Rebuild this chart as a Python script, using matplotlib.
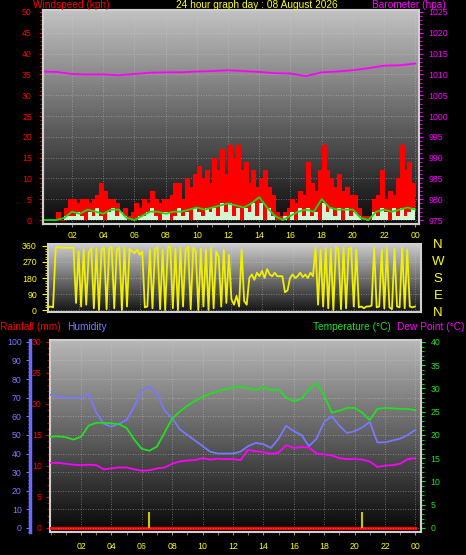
import numpy as np
import matplotlib
matplotlib.use("Agg")
import matplotlib.pyplot as plt
from matplotlib.ticker import MultipleLocator

plt.rcParams['font.family'] = ['Liberation Sans', 'DejaVu Sans']

# x axis labels (hours)
hour_ticks = [2, 4, 6, 8, 10, 12, 14, 16, 18, 20, 22, 24]
hour_labels = ["02", "04", "06", "08", "10", "12", "14", "16", "18", "20", "22", "00"]

# wind gust (kph), every 15 min
wind_gust = [0, 0, 0, 0,   2, 0, 3, 5,   5, 4, 5, 5,   4, 5, 6, 9,
             7, 5, 5, 4,   2, 3, 1, 2,   4, 3, 5, 4,   7, 5, 4, 5,
             5, 6, 9, 9,   5, 10, 8, 11, 13, 10, 12, 9, 15, 12, 17, 11,
             18, 15, 18, 12, 14, 9, 12, 8, 10, 12, 8, 6,  2, 1, 2, 3,
             5, 4, 7, 6,   14, 9, 7, 12, 18, 12, 10, 8, 11, 7, 8, 6,
             6, 3, 1, 1,   1, 5, 6, 12,  5, 7, 6, 10,  18, 12, 14, 9,
             6]
# wind speed (kph), every 15 min
wind_speed = [0, 0, 0, 0,  0, 0, 1, 1,  1, 2, 1, 0,  2, 1, 3, 1,
              0, 2, 3, 1,  2, 1, 0, 0,  0, 1, 1, 2,  3, 1, 0, 2,
              2, 0, 1, 3,  1, 2, 0, 3,  2, 1, 3, 2,  3, 1, 4, 2,
              4, 1, 3, 0,  3, 2, 4, 1,  4, 0, 3, 1,  0, 0, 1, 0,
              2, 0, 3, 1,  3, 1, 2, 0,  4, 2, 3, 1,  3, 0, 3, 1,
              2, 1, 0, 0,  0, 2, 1, 3,  2, 0, 3, 1,  3, 1, 2, 3,
              1]
# average wind (kph), every 30 min
wind_avg = [0, 0, 0, 0.5, 2, 1.5, 2.5, 2, 1.5, 2.5, 2.5, 0.5, 0, 1, 2, 2,
            1.5, 2, 2, 2.5, 3, 2.5, 3, 3.5, 4, 3.5, 3, 4, 5.5, 3, 1, 0,
            1, 2, 2.5, 2, 5, 3, 2.5, 2.5, 2.5, 0.5, 0, 2, 2.5, 2, 2.5, 3, 2.5]
# barometer (hpa), hourly
baro = [1010.7, 1010.6, 1010.1, 1010.0, 1010.0, 1009.8, 1010.1, 1010.4, 1010.5,
        1010.5, 1010.7, 1010.8, 1011.0, 1010.8, 1010.6, 1010.3, 1010.2, 1009.6,
        1010.5, 1010.7, 1011.0, 1011.5, 1012.1, 1012.2, 1012.6]
# wind direction (deg), every 10 min
wind_dir = [15, 20, 15, 350, 355, 350,   350, 350, 350, 350, 350, 40,
            330, 20, 340, 30, 320, 350,   10, 345, 0, 340, 350, 5,
            345, 355, 10, 340, 350, 0,    350, 20, 345, 330, 320, 340,
            310, 330, 15, 20, 340, 10,    345, 350, 5, 340, 0, 350,
            355, 10, 345, 0, 350, 20,     340, 355, 5, 350, 330, 0,
            345, 20, 340, 0, 350, 10,     330, 300, 20, 340, 40, 310,
            60, 30, 80, 20, 340, 50,      30, 180, 200, 170, 210, 190,
            220, 180, 230, 200, 190, 210, 190, 190, 190, 100, 110, 180,
            200, 180, 190, 210, 185, 200, 180, 210, 190, 350, 30, 340,
            20, 350, 10, 345, 0, 355,     340, 5, 350, 10, 345, 350,
            20, 340, 15, 20, 10, 20,      20, 25, 350, 15, 20, 340,
            10, 350, 15, 5, 345, 20,      15, 350, 10, 340, 20, 15,
            20]
# temperature / dew point (C), humidity (%), rain (mm), every 30 min
temp = [19.6, 19.7, 19.5, 19.0, 19.6, 22.0, 22.6, 22.6, 22.5, 22.3, 21.5, 19.0,
        17.0, 16.6, 17.5, 20.5, 23.5, 25.0, 26.3, 27.3, 28.2, 28.8, 29.4, 29.8,
        30.2, 30.4, 30.0, 29.7, 30.3, 29.6, 29.8, 28.0, 27.2, 27.8, 29.8, 31.2,
        28.5, 24.8, 25.2, 25.8, 25.8, 24.8, 23.2, 25.6, 25.8, 25.7, 25.6, 25.6, 25.3]
dew = [14.0, 14.0, 13.8, 13.6, 13.5, 13.6, 13.5, 12.6, 12.8, 13.0, 13.0, 12.6,
       12.3, 12.4, 12.8, 13.0, 13.8, 14.3, 14.5, 14.6, 15.0, 14.7, 14.9, 14.8,
       14.8, 14.6, 16.8, 16.5, 16.3, 15.9, 16.2, 17.8, 17.2, 17.4, 17.3, 16.0,
       15.8, 15.6, 15.0, 14.8, 14.8, 14.7, 14.3, 13.1, 13.4, 13.5, 13.8, 14.8, 15.0]
humidity = [71.5, 70.5, 70, 70, 70, 72, 62, 56, 54.5, 56, 58, 65,
            74, 76, 72, 63, 59, 53, 50, 47, 44, 41, 40, 40,
            40, 41, 44, 45.7, 45, 43, 48, 55, 52, 50, 44, 48,
            57, 60, 55, 51, 52, 54, 57, 46, 46, 47, 48, 50, 52.7]
rain = [0.0] * 49
rain_rate_hours = [6.45, 20.5]
rain_rate = [2.6, 2.6]

t15 = np.arange(len(wind_gust)) * 0.25
t30 = np.arange(len(wind_avg)) * 0.5
t60 = np.arange(len(baro)) * 1.0
t10 = np.arange(len(wind_dir)) / 6.0

W, H = 466, 555
fig = plt.figure(figsize=(W / 100, H / 100), dpi=100)
fig.patch.set_facecolor('black')


def px_box(l, t, r, b):
    return [l / W, 1 - b / H, (r - l) / W, (b - t) / H]


def shade(ax, top, bottom):
    g = np.linspace(top, bottom, 200).reshape(-1, 1)
    ax.imshow(g, cmap='gray', vmin=0, vmax=1, aspect='auto', extent=[0, 1, 0, 1],
              transform=ax.transAxes, zorder=0, interpolation='bilinear')


def frame(ax):
    for s in ax.spines.values():
        s.set_color('#d0d0d0')
        s.set_linewidth(1.5)


def ftext(x, y, s, color, size=7.3, ha='left'):
    fig.text(x / W, 1 - y / H, s, color=color, fontsize=size, ha=ha, va='center')


grid_kw = dict(color='#d0d0d0', ls=(0, (1, 2)), lw=0.6, alpha=0.55)

# ---- panel 1: wind speed and barometer ----
ax1 = fig.add_axes(px_box(43, 10, 419, 224))
shade(ax1, 0.76, 0.04)
ax1.fill_between(t15, wind_gust, step='post', color='red', lw=0, zorder=2)
ax1.step(t15, wind_gust, where='post', color='red', lw=0.8, zorder=2)
ax1.fill_between(t15, wind_speed, step='post', color='#d4f5d4', lw=0, zorder=3)
ax1.plot(t30, wind_avg, color='#10e010', lw=1.3, zorder=4)
ax1.set_xlim(0.14, 24.24)
ax1.set_ylim(-0.96, 50.48)
ax1.yaxis.set_major_locator(MultipleLocator(5))
ax1.yaxis.set_minor_locator(MultipleLocator(1))
ax1.tick_params(axis='y', which='both', colors='red', labelsize=6.3, length=3, pad=5)
ax1.tick_params(axis='y', which='minor', length=2)
ax1.set_xticks(hour_ticks)
ax1.set_xticklabels(hour_labels)
ax1.xaxis.set_minor_locator(MultipleLocator(1))
ax1.tick_params(axis='x', which='both', colors='#909090', labelcolor='yellow',
                labelsize=6.3, length=2, pad=3)
ax1.grid(True, which='major', **grid_kw)
frame(ax1)

ax1b = ax1.twinx()
ax1b.plot(t60, baro, color='#ff00ff', lw=1.3)
ax1b.set_ylim(974.04, 1025.48)
ax1b.yaxis.set_major_locator(MultipleLocator(5))
ax1b.yaxis.set_minor_locator(MultipleLocator(1))
ax1b.tick_params(axis='y', which='both', colors='#ff00ff', labelsize=6.3, length=3, pad=4)
ax1b.tick_params(axis='y', which='minor', length=2)
frame(ax1b)

# ---- panel 2: wind direction ----
ax2 = fig.add_axes(px_box(48, 244, 421, 312))
shade(ax2, 0.8, 0.08)
ax2.plot(t10, wind_dir, color='#f0f000', lw=1.3, zorder=3)
ax2.set_xlim(0, 24.4)
ax2.set_ylim(-11, 371)
ax2.set_yticks([0, 90, 180, 270, 360])
ax2.yaxis.set_minor_locator(MultipleLocator(15))
ax2.tick_params(axis='y', which='both', colors='yellow', labelsize=6.3, length=4, pad=4)
ax2.tick_params(axis='y', which='minor', length=2)
ax2.set_xticks(hour_ticks)
ax2.tick_params(axis='x', length=0, labelbottom=False)
ax2.grid(True, which='major', **grid_kw)
frame(ax2)
for y, s in zip([245, 262, 279, 296, 313], ["N", "W", "S", "E", "N"]):
    ftext(438, y, s, 'yellow', size=9.5, ha='center')

# ---- panel 3: rain, humidity, temperature ----
ax3 = fig.add_axes(px_box(50, 340, 421, 532))
shade(ax3, 0.72, 0.03)
ax3.plot(t30, rain, color='red', lw=2.2, zorder=3)
ax3.vlines(rain_rate_hours, 0, rain_rate, color='#c8c800', lw=1.5, zorder=3)
ax3.set_xlim(-0.04, 24.37)
ax3.set_ylim(-0.65, 30.3)
ax3.yaxis.set_major_locator(MultipleLocator(5))
ax3.yaxis.set_minor_locator(MultipleLocator(1))
ax3.tick_params(axis='y', which='both', colors='red', labelsize=6.3, length=3, pad=3)
ax3.tick_params(axis='y', which='minor', length=2)
ax3.set_xticks(hour_ticks)
ax3.set_xticklabels(hour_labels)
ax3.xaxis.set_minor_locator(MultipleLocator(1))
ax3.tick_params(axis='x', which='both', colors='#909090', labelcolor='yellow',
                labelsize=6.3, length=2, pad=5)
ax3.grid(True, axis='x', which='major', **grid_kw)
frame(ax3)

axh = ax3.twinx()
axh.spines['left'].set_position(('outward', 14.4))
axh.yaxis.set_ticks_position('left')
axh.yaxis.set_label_position('left')
for k in ['right', 'top', 'bottom']:
    axh.spines[k].set_visible(False)
axh.spines['left'].set_visible(True)
axh.spines['left'].set_color('#6a6aff')
axh.spines['left'].set_linewidth(2.5)
axh.plot(t30, humidity, color='#7878ff', lw=1.3, zorder=3)
axh.set_ylim(-0.65 / 30 * 100, 30.3 / 30 * 100)
axh.yaxis.set_major_locator(MultipleLocator(10))
axh.yaxis.set_minor_locator(MultipleLocator(2))
axh.tick_params(axis='y', which='both', colors='#7878ff', labelsize=6.3, length=3, pad=3)
axh.tick_params(axis='y', which='minor', length=1.5)
axh.grid(True, axis='y', which='major', **grid_kw)

axt = ax3.twinx()
for k in ['left', 'top', 'bottom']:
    axt.spines[k].set_visible(False)
axt.spines['right'].set_color('#d0d0d0')
axt.spines['right'].set_linewidth(1.5)
axt.plot(t30, temp, color='#20e020', lw=1.3, zorder=3)
axt.plot(t30, dew, color='#ff00ff', lw=1.3, zorder=3)
axt.set_ylim(-0.65 / 30 * 40, 30.3 / 30 * 40)
axt.yaxis.set_major_locator(MultipleLocator(5))
axt.yaxis.set_minor_locator(MultipleLocator(1))
axt.tick_params(axis='y', which='both', colors='#20e020', labelsize=6.3, length=3, pad=4)
axt.tick_params(axis='y', which='minor', length=2)

# ---- header texts ----
ftext(33, 5, "Windspeed (kph)", 'red')
ftext(257, 5, "24 hour graph day : 08 August 2026", 'yellow', ha='center')
ftext(446, 5, "Barometer (hpa)", '#ff00ff', ha='right')
ftext(0, 327, "Rainfall (mm)", 'red')
ftext(67, 327, "Humidity", '#7878ff')
ftext(313, 327, "Temperature (\u00b0C)", '#20e020')
ftext(464, 327, "Dew Point (\u00b0C)", '#ff00ff', ha='right')

fig.savefig("out.png", dpi=100, facecolor='black')
